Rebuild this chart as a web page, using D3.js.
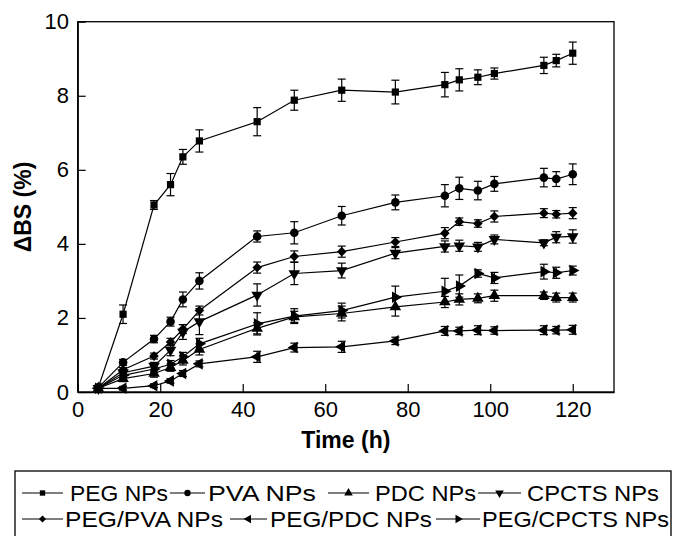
<html>
<head>
<script src="https://d3js.org/d3.v7.min.js"></script>
<style>
  body { margin: 0; background: #fff; }
  text { font-family: "Liberation Sans", Arial, sans-serif; }
</style>
</head>
<body>
<svg id="chart" width="673" height="536"></svg>
<script>
// sampling times (h)
var times = [5, 11, 18.5, 22.5, 25.5, 29.5, 43.5, 52.5, 64, 77, 89, 92.5, 97, 101, 113, 116, 120];

var pegVals      = [0.12, 2.1, 5.05, 5.6, 6.35, 6.78, 7.3, 7.88, 8.15, 8.1, 8.3, 8.43, 8.5, 8.6, 8.82, 8.95, 9.15];
var pegErr       = [0.05, 0.25, 0.12, 0.3, 0.2, 0.3, 0.38, 0.27, 0.3, 0.32, 0.33, 0.3, 0.2, 0.15, 0.22, 0.17, 0.3];
var pvaVals      = [0.12, 0.8, 1.43, 1.9, 2.5, 3.0, 4.2, 4.3, 4.76, 5.12, 5.3, 5.5, 5.44, 5.62, 5.79, 5.75, 5.88];
var pvaErr       = [0.05, 0.08, 0.1, 0.12, 0.2, 0.22, 0.15, 0.3, 0.25, 0.2, 0.3, 0.3, 0.25, 0.2, 0.25, 0.2, 0.28];
var pdcVals      = [0.1, 0.36, 0.5, 0.66, 0.85, 1.15, 1.72, 2.03, 2.12, 2.3, 2.43, 2.5, 2.53, 2.6, 2.6, 2.55, 2.55];
var pdcErr       = [0.05, 0.08, 0.1, 0.1, 0.12, 0.15, 0.15, 0.15, 0.2, 0.25, 0.15, 0.15, 0.12, 0.15, 0.1, 0.12, 0.12];
var cpctsVals    = [0.1, 0.52, 0.7, 1.13, 1.62, 1.9, 2.62, 3.2, 3.28, 3.75, 3.93, 3.95, 3.92, 4.12, 4.03, 4.18, 4.2];
var cpctsErr     = [0.05, 0.08, 0.1, 0.15, 0.2, 0.35, 0.3, 0.3, 0.2, 0.15, 0.15, 0.15, 0.12, 0.12, 0.08, 0.15, 0.18];
var pegPvaVals   = [0.1, 0.6, 0.97, 1.35, 1.7, 2.2, 3.36, 3.66, 3.79, 4.05, 4.29, 4.6, 4.55, 4.74, 4.83, 4.8, 4.83];
var pegPvaErr    = [0.05, 0.06, 0.08, 0.1, 0.12, 0.12, 0.15, 0.15, 0.15, 0.12, 0.15, 0.1, 0.1, 0.15, 0.12, 0.1, 0.15];
var pegPdcVals   = [0.1, 0.1, 0.17, 0.3, 0.5, 0.76, 0.95, 1.2, 1.22, 1.38, 1.65, 1.65, 1.67, 1.66, 1.67, 1.67, 1.68];
var pegPdcErr    = [0.03, 0.05, 0.05, 0.06, 0.08, 0.08, 0.15, 0.12, 0.15, 0.1, 0.12, 0.1, 0.12, 0.1, 0.12, 0.1, 0.12];
var pegCpctsVals = [0.1, 0.45, 0.62, 0.75, 0.95, 1.3, 1.84, 2.05, 2.2, 2.56, 2.72, 2.86, 3.2, 3.08, 3.25, 3.22, 3.28];
var pegCpctsErr  = [0.05, 0.06, 0.08, 0.1, 0.12, 0.15, 0.3, 0.2, 0.2, 0.3, 0.35, 0.3, 0.1, 0.15, 0.2, 0.15, 0.12];

var seriesNames = ["PEG NPs", "PVA NPs", "PDC NPs", "CPCTS NPs", "PEG/PVA NPs", "PEG/PDC NPs", "PEG/CPCTS NPs"];
var xTicks = [0, 20, 40, 60, 80, 100, 120];
var yTicks = [0, 2, 4, 6, 8, 10];

// symbol type + rotation for each series
var markers = [
  {type: d3.symbolSquare, rot: 0, size: 52},
  {type: d3.symbolCircle, rot: 0, size: 58},
  {type: d3.symbolTriangle, rot: 0, size: 58},
  {type: d3.symbolTriangle, rot: 180, size: 58},
  {type: d3.symbolSquare, rot: 45, size: 46},
  {type: d3.symbolTriangle, rot: -90, size: 58},
  {type: d3.symbolTriangle, rot: 90, size: 58}
];

var allVals = [pegVals, pvaVals, pdcVals, cpctsVals, pegPvaVals, pegPdcVals, pegCpctsVals];
var allErr  = [pegErr, pvaErr, pdcErr, cpctsErr, pegPvaErr, pegPdcErr, pegCpctsErr];

var svg = d3.select("#chart");
var plotL = 77.7, plotR = 614, plotT = 21.7, plotB = 392;

var x = d3.scaleLinear().domain([0, 130]).range([plotL, plotR]);
var y = d3.scaleLinear().domain([0, 10]).range([plotB, plotT]);

// frame
svg.append("rect")
  .attr("x", plotL).attr("y", plotT)
  .attr("width", plotR - plotL).attr("height", plotB - plotT)
  .attr("fill", "none").attr("stroke", "#000").attr("stroke-width", 1.3);

// axes with inward ticks
var xAxis = svg.append("g").attr("transform", "translate(0," + plotB + ")")
  .call(d3.axisBottom(x).tickValues(xTicks).tickSizeInner(-8).tickSizeOuter(0).tickPadding(12));
var yAxis = svg.append("g").attr("transform", "translate(" + plotL + ",0)")
  .call(d3.axisLeft(y).tickValues(yTicks).tickSizeInner(-8).tickSizeOuter(0).tickPadding(10));
[xAxis, yAxis].forEach(function(g) {
  g.select(".domain").attr("stroke", "#000").attr("stroke-width", 1.3);
  g.selectAll(".tick line").attr("stroke", "#000").attr("stroke-width", 1.2);
  g.selectAll(".tick text").attr("fill", "#000")
    .style("font-family", "'Liberation Sans', Arial, sans-serif").style("font-size", "22px");
});
xAxis.selectAll(".tick text").attr("y", 9);
yAxis.selectAll(".tick text").attr("x", -8.7);

// axis titles
svg.append("text")
  .attr("x", (plotL + plotR) / 2).attr("y", 448)
  .attr("text-anchor", "middle")
  .style("font-size", "23px").style("font-weight", "bold")
  .text("Time (h)");
svg.append("text")
  .attr("transform", "translate(31,207) rotate(-90)")
  .attr("text-anchor", "middle")
  .style("font-size", "23px").style("font-weight", "bold")
  .text("\u0394BS (%)");

var line = d3.line().x(function(d) { return x(d.t); }).y(function(d) { return y(d.v); });

allVals.forEach(function(vals, i) {
  var pts = times.map(function(t, j) { return {t: t, v: vals[j], e: allErr[i][j]}; });
  var g = svg.append("g");
  g.append("path").datum(pts).attr("d", line)
    .attr("fill", "none").attr("stroke", "#000").attr("stroke-width", 1.2);
  var eb = g.selectAll(".eb").data(pts).enter().append("g");
  eb.append("line")
    .attr("x1", function(d) { return x(d.t); }).attr("x2", function(d) { return x(d.t); })
    .attr("y1", function(d) { return y(d.v - d.e); }).attr("y2", function(d) { return y(d.v + d.e); })
    .attr("stroke", "#000").attr("stroke-width", 1.2);
  [-1, 1].forEach(function(s) {
    eb.append("line")
      .attr("x1", function(d) { return x(d.t) - 4; }).attr("x2", function(d) { return x(d.t) + 4; })
      .attr("y1", function(d) { return y(d.v + s * d.e); }).attr("y2", function(d) { return y(d.v + s * d.e); })
      .attr("stroke", "#000").attr("stroke-width", 1.2);
  });
  var m = markers[i];
  g.selectAll(".pt").data(pts).enter().append("path")
    .attr("d", d3.symbol().type(m.type).size(m.size))
    .attr("transform", function(d) { return "translate(" + x(d.t) + "," + y(d.v) + ") rotate(" + m.rot + ")"; })
    .attr("fill", "#000");
});

// legend
var legendPos = [
  {x1: 22, x2: 63, tx: 70, tw: 98, row: 0},
  {x1: 170, x2: 205, tx: 208, tw: 108, row: 0},
  {x1: 328, x2: 369, tx: 375, tw: 101, row: 0},
  {x1: 478, x2: 521, tx: 527, tw: 132, row: 0},
  {x1: 22, x2: 63, tx: 65, tw: 158, row: 1},
  {x1: 230, x2: 267, tx: 270, tw: 162, row: 1},
  {x1: 436, x2: 480, tx: 482, tw: 187, row: 1}
];
var lg = svg.append("g");
lg.append("rect").attr("x", 15).attr("y", 471).attr("width", 656).attr("height", 80)
  .attr("fill", "none").attr("stroke", "#000").attr("stroke-width", 1.3);
seriesNames.forEach(function(name, i) {
  var p = legendPos[i];
  var cy = p.row === 0 ? 493 : 519;
  lg.append("line").attr("x1", p.x1).attr("x2", p.x2).attr("y1", cy).attr("y2", cy)
    .attr("stroke", "#000").attr("stroke-width", 1.2);
  var m = markers[i];
  lg.append("path")
    .attr("d", d3.symbol().type(m.type).size(m.size * 0.55))
    .attr("transform", "translate(" + ((p.x1 + p.x2) / 2) + "," + cy + ") rotate(" + m.rot + ")")
    .attr("fill", "#000");
  lg.append("text").attr("x", p.tx).attr("y", cy + 8)
    .attr("textLength", p.tw).attr("lengthAdjust", "spacingAndGlyphs")
    .style("font-size", "22px")
    .text(name);
});
</script>
</body>
</html>
